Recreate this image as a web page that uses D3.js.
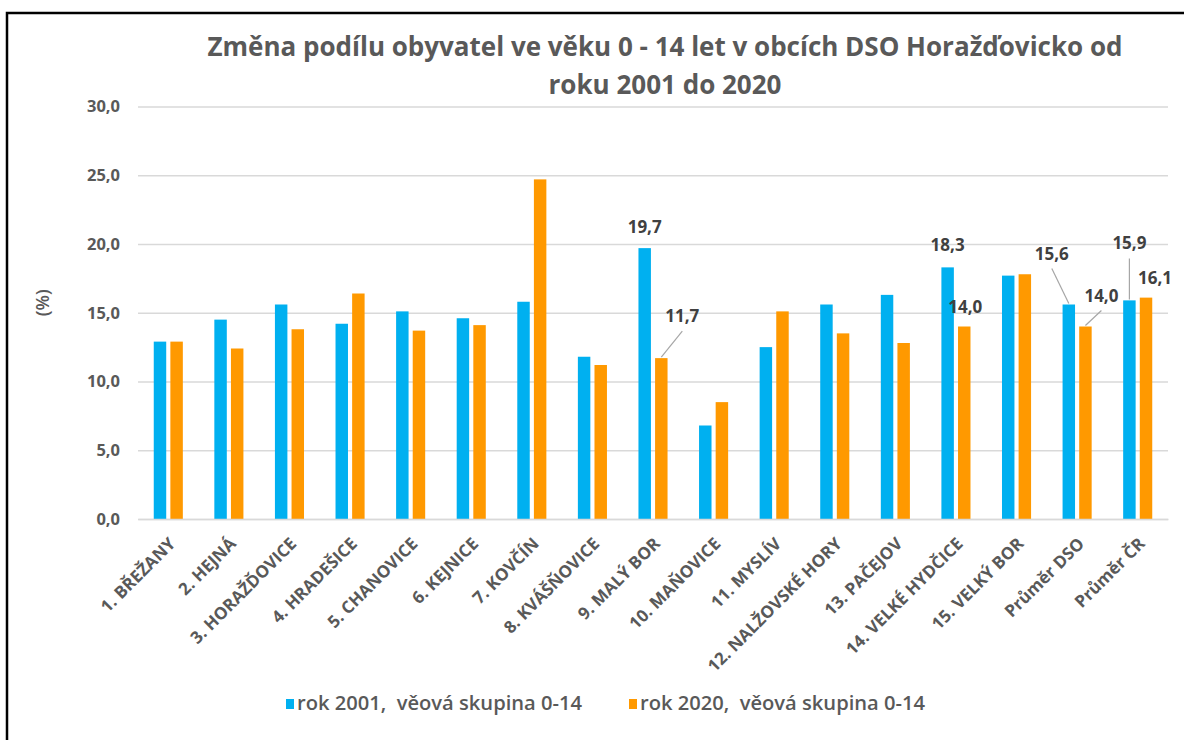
<!DOCTYPE html>
<html>
<head>
<meta charset="utf-8">
<script src="https://cdn.jsdelivr.net/npm/d3@7"></script>
<style>
  body { margin: 0; background: #fff; }
  svg { display: block; }
</style>
</head>
<body>
<div id="chart"></div>
<script>
// obce a průměry (kategorie na ose x)
const kategorie = [
  '1. BŘEŽANY', '2. HEJNÁ', '3. HORAŽĎOVICE', '4. HRADEŠICE', '5. CHANOVICE',
  '6. KEJNICE', '7. KOVČÍN', '8. KVÁŠŇOVICE', '9. MALÝ BOR', '10. MAŇOVICE',
  '11. MYSLÍV', '12. NALŽOVSKÉ HORY', '13. PAČEJOV', '14. VELKÉ HYDČICE',
  '15. VELKÝ BOR', 'Průměr DSO', 'Průměr ČR'
];
// podíl obyvatel 0-14 let (%)
const rok2001 = [12.9, 14.5, 15.6, 14.2, 15.1, 14.6, 15.8, 11.8, 19.7, 6.8, 12.5, 15.6, 16.3, 18.3, 17.7, 15.6, 15.9];
const rok2020 = [12.9, 12.4, 13.8, 16.4, 13.7, 14.1, 24.7, 11.2, 11.7, 8.5, 15.1, 13.5, 12.8, 14.0, 17.8, 14.0, 16.1];
const nazvySerii = ['rok 2001,  věová skupina 0-14', 'rok 2020,  věová skupina 0-14'];
const barvy = ['#00B0F0', '#FF9900'];
const yTicks = [0, 5, 10, 15, 20, 25, 30];
const titulek = ['Změna podílu obyvatel ve věku 0 - 14 let v obcích DSO Horažďovicko od', 'roku 2001 do 2020'];

// popisky hodnot, jen u vybraných sloupců (posun od vrcholu sloupce)
const popisky = [
  { kat: '9. MALÝ BOR', s: 0, dx: 0, dy: -15, vodic: false },
  { kat: '9. MALÝ BOR', s: 1, dx: 21, dy: -36, vodic: true },
  { kat: '14. VELKÉ HYDČICE', s: 0, dx: 0, dy: -16, vodic: false },
  { kat: '14. VELKÉ HYDČICE', s: 1, dx: 1, dy: -14, vodic: false },
  { kat: 'Průměr DSO', s: 0, dx: -17, dy: -45, vodic: true },
  { kat: 'Průměr DSO', s: 1, dx: 16, dy: -25, vodic: true },
  { kat: 'Průměr ČR', s: 0, dx: 0, dy: -51, vodic: true },
  { kat: 'Průměr ČR', s: 1, dx: 9, dy: -14, vodic: false }
];

const W = 1184, H = 740;
const plocha = { left: 138, right: 1168, top: 106.5, bottom: 519 };
const fmt = v => d3.format('.1f')(v).replace('.', ',');
const hodnoty = [rok2001, rok2020];

const svg = d3.select('#chart').append('svg')
  .attr('width', W).attr('height', H)
  .style('font-family', '"Open Sans", sans-serif');

svg.append('rect').attr('width', W).attr('height', H).attr('fill', '#fff');

const y = d3.scaleLinear().domain([0, 30]).range([plocha.bottom, plocha.top]);
const x0 = d3.scaleBand().domain(kategorie).range([plocha.left, plocha.right])
  .paddingInner(0.52).paddingOuter(0.26);
const x1 = d3.scaleBand().domain([0, 1]).range([0, x0.bandwidth()]).paddingInner(0.25);

// mřížka a osa y
const osaY = svg.append('g').attr('transform', `translate(${plocha.left},0)`)
  .call(d3.axisLeft(y).tickValues(yTicks).tickFormat(fmt)
    .tickSize(-(plocha.right - plocha.left)).tickPadding(18));
osaY.select('.domain').remove();
osaY.selectAll('line').attr('stroke', '#D9D9D9').attr('stroke-width', 1.3);
osaY.selectAll('text').attr('fill', '#595959').attr('font-size', 16.5).attr('font-weight', 700)
  .attr('font-family', '"Open Sans", sans-serif');

svg.append('text')
  .attr('transform', `translate(49,${(plocha.top + plocha.bottom) / 2 - 10}) rotate(-90)`)
  .attr('text-anchor', 'middle').attr('fill', '#595959')
  .attr('font-size', 18).attr('font-weight', 600)
  .text('(%)');

// sloupce
const skupiny = svg.append('g').selectAll('g').data(kategorie).join('g')
  .attr('transform', d => `translate(${x0(d)},0)`);

skupiny.selectAll('rect').data((d, i) => hodnoty.map((h, s) => ({ s, v: h[i] }))).join('rect')
  .attr('x', d => x1(d.s))
  .attr('width', x1.bandwidth())
  .attr('y', d => y(d.v))
  .attr('height', d => y(0) - y(d.v))
  .attr('fill', d => barvy[d.s]);

// osa x
const osaX = svg.append('g').attr('transform', `translate(0,${plocha.bottom})`)
  .call(d3.axisBottom(x0).tickSize(0));
osaX.select('.domain').attr('stroke', '#D9D9D9').attr('stroke-width', 1.3);
osaX.selectAll('text')
  .attr('fill', '#595959').attr('font-size', 17).attr('font-weight', 700)
  .attr('font-family', '"Open Sans", sans-serif')
  .attr('text-anchor', 'end')
  .attr('x', -12.5).attr('y', 24).attr('dy', 0)
  .attr('transform', 'rotate(-45)');

// popisky hodnot s vodicími čarami
const pg = svg.append('g');
popisky.forEach(p => {
  const i = kategorie.indexOf(p.kat);
  const v = hodnoty[p.s][i];
  const cx = x0(p.kat) + x1(p.s) + x1.bandwidth() / 2;
  const top = y(v);
  const lx = cx + p.dx, ly = top + p.dy;
  if (p.vodic) {
    pg.append('line')
      .attr('x1', lx).attr('y1', ly + 9)
      .attr('x2', cx).attr('y2', top - 1)
      .attr('stroke', '#A6A6A6').attr('stroke-width', 1.2);
  }
  pg.append('text')
    .attr('x', lx).attr('y', ly)
    .attr('text-anchor', 'middle')
    .attr('fill', '#404040').attr('font-size', 17).attr('font-weight', 700)
    .text(fmt(v));
});

// titulek
svg.append('g').selectAll('text').data(titulek).join('text')
  .attr('x', 665).attr('y', (d, i) => 56 + i * 38)
  .attr('text-anchor', 'middle')
  .attr('fill', '#595959').attr('font-size', 26).attr('font-weight', 700)
  .attr('textLength', (d, i) => i === 0 ? 915 : 233)
  .attr('lengthAdjust', 'spacingAndGlyphs')
  .text(d => d);

// legenda
const legX = [286, 629];
const leg = svg.append('g').selectAll('g').data(nazvySerii).join('g')
  .attr('transform', (d, i) => `translate(${legX[i]},699)`);
leg.append('rect').attr('width', 8).attr('height', 10).attr('fill', (d, i) => barvy[i]);
leg.append('text')
  .attr('x', 11).attr('y', 11)
  .attr('fill', '#595959').attr('font-size', 19).attr('font-weight', 600)
  .attr('textLength', 285).attr('lengthAdjust', 'spacingAndGlyphs')
  .style('white-space', 'pre')
  .text(d => d);

// rámeček
svg.append('rect')
  .attr('x', 7).attr('y', 13).attr('width', 1200).attr('height', 800)
  .attr('fill', 'none').attr('stroke', '#000').attr('stroke-width', 2.5);
</script>
</body>
</html>
